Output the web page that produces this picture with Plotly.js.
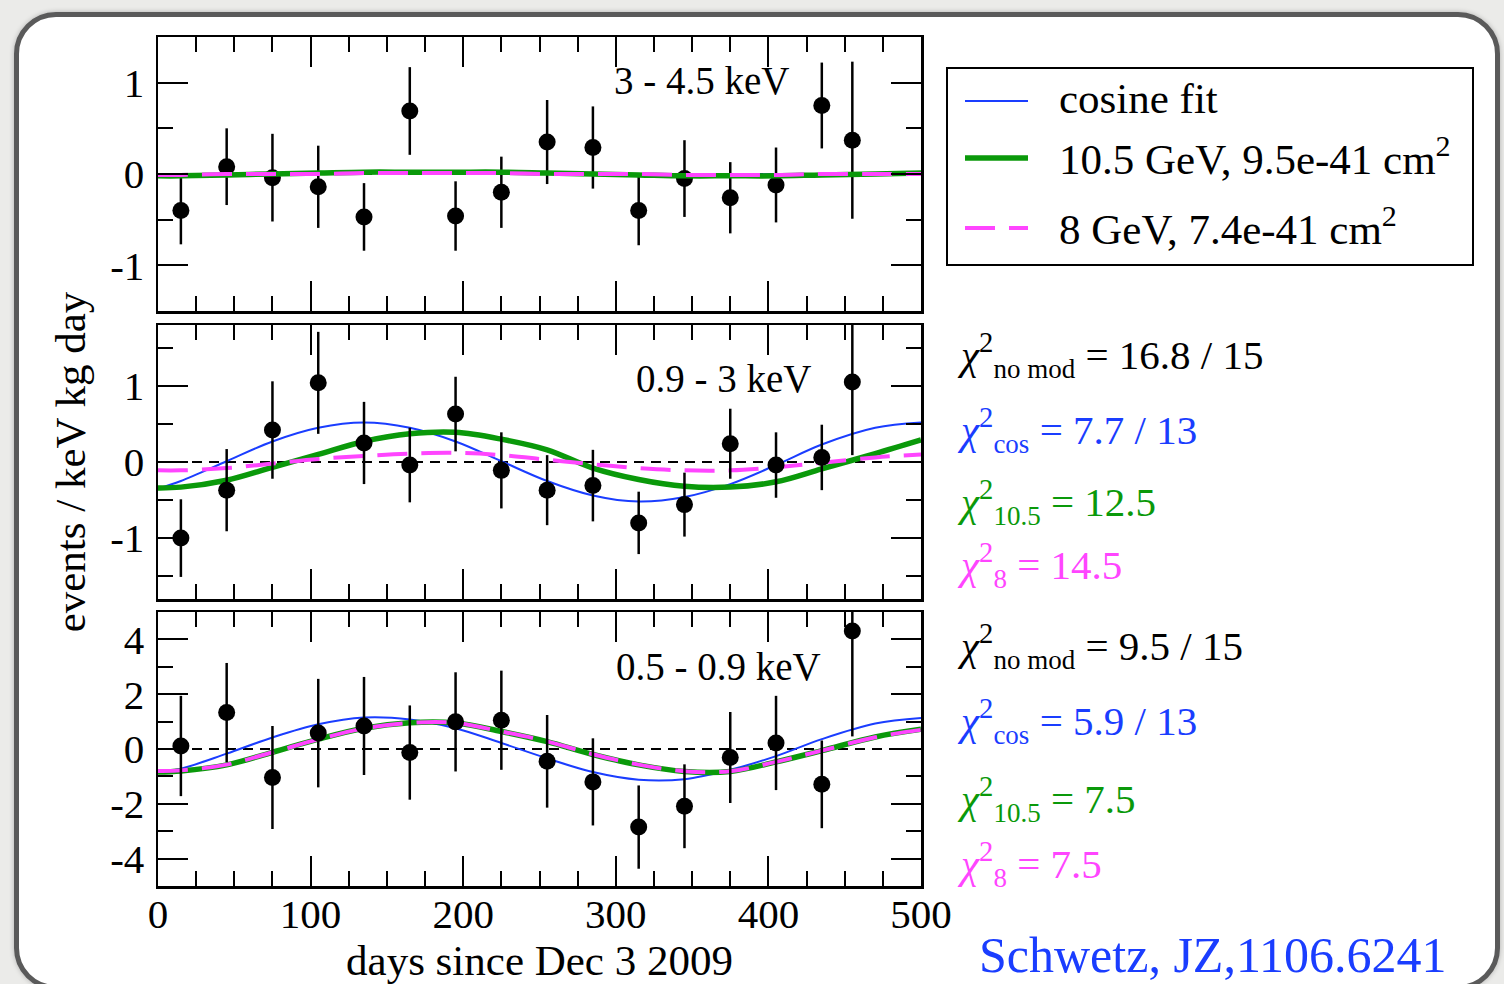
<!DOCTYPE html>
<html><head><meta charset="utf-8">
<script src="https://cdn.plot.ly/plotly-3.0.1.min.js"></script>
<style>
html,body{margin:0;padding:0;width:1504px;height:984px;overflow:hidden;background:#ebebe9;}
#frame{position:absolute;left:14px;top:12px;width:1486px;height:978px;box-sizing:border-box;border:5px solid #5a5a5a;border-radius:42px;background:#fff;box-shadow:0 0 5px rgba(0,0,0,0.25);}
#chart{position:absolute;left:0;top:0;width:1504px;height:984px;}
</style></head><body>
<div id="frame"></div><div id="chart"></div>
<script>
// ---- data ----
const days = [15,45,75,105,135,165,195,225,255,285,315,345,375,405,435,455];

const hiY   = [-0.40,0.08,-0.04,-0.14,-0.47,0.69,-0.46,-0.20,0.35,0.29,-0.40,-0.05,-0.26,-0.12,0.75,0.37];
const hiErr = [0.37,0.42,0.48,0.45,0.37,0.48,0.38,0.39,0.46,0.45,0.38,0.42,0.39,0.41,0.47,0.86];

const midY   = [-1.00,-0.37,0.42,1.04,0.25,-0.04,0.63,-0.11,-0.37,-0.31,-0.80,-0.56,0.24,-0.04,0.06,1.05];
const midErr = [0.51,0.54,0.64,0.67,0.54,0.49,0.49,0.50,0.46,0.47,0.41,0.42,0.46,0.43,0.43,0.96];

const lowY   = [0.11,1.33,-1.04,0.58,0.84,-0.13,0.99,1.05,-0.45,-1.20,-2.85,-2.09,-0.31,0.22,-1.29,4.31];
const lowErr = [1.83,1.81,1.88,1.98,1.79,1.72,1.81,1.81,1.69,1.59,1.52,1.53,1.66,1.72,1.60,3.85];

const curveDays = [0,15,45,75,105,135,165,195,225,255,285,315,345,375,405,435,470,500];

const hiCos = [0.00,0.00,0.00,0.01,0.01,0.01,0.01,0.01,0.00,0.00,-0.01,-0.01,-0.01,-0.01,0.00,0.00,0.01,0.01];
const hi105 = [-0.02,-0.02,-0.01,0.00,0.01,0.02,0.02,0.02,0.02,0.01,0.00,-0.01,-0.02,-0.02,-0.02,-0.01,0.00,0.01];
const hi8   = [-0.01,-0.01,0.00,0.00,0.00,0.01,0.01,0.01,0.01,0.00,0.00,0.00,-0.01,-0.01,-0.01,0.00,0.00,0.00];

const midCos = [-0.35,-0.25,0.01,0.27,0.45,0.52,0.45,0.27,0.01,-0.25,-0.44,-0.52,-0.46,-0.29,-0.04,0.23,0.45,0.52];
const mid105 = [-0.34,-0.33,-0.24,-0.07,0.10,0.27,0.37,0.39,0.30,0.16,-0.08,-0.23,-0.32,-0.33,-0.26,-0.09,0.11,0.29];
const mid8   = [-0.11,-0.11,-0.08,-0.02,0.04,0.08,0.11,0.12,0.09,0.03,-0.03,-0.08,-0.11,-0.11,-0.07,-0.01,0.06,0.10];

const lowCos = [-0.85,-0.72,-0.17,0.42,0.90,1.15,1.08,0.76,0.22,-0.34,-0.84,-1.12,-1.10,-0.76,-0.26,0.36,0.93,1.13];
const low105 = [-0.84,-0.80,-0.58,-0.12,0.36,0.76,0.96,0.95,0.64,0.27,-0.20,-0.58,-0.82,-0.82,-0.47,-0.06,0.44,0.72];
const low8   = [-0.80,-0.78,-0.57,-0.12,0.35,0.75,0.95,0.95,0.64,0.28,-0.19,-0.57,-0.81,-0.81,-0.47,-0.06,0.43,0.70];

const xTickVals = [0,100,200,300,400,500];
const xTickText = ['0','100','200','300','400','500'];
const y12TickVals = [-1,0,1];
const y12TickText = ['-1','0','1'];
const y3TickVals = [-4,-2,0,2,4];
const y3TickText = ['-4','-2','0','2','4'];

const seriesNames = ['cosine fit','10.5 GeV, 9.5e-41 cm<sup>2</sup>','8 GeV, 7.4e-41 cm<sup>2</sup>'];
const panelLabels = ['3 - 4.5 keV','0.9 - 3 keV','0.5 - 0.9 keV'];
const chiSubs = ['no mod','cos','10.5','8'];
const chiMidVals = ['16.8 / 15','7.7 / 13','12.5','14.5'];
const chiLowVals = ['9.5 / 15','5.9 / 13','7.5','7.5'];
const citation = 'Schwetz, JZ,1106.6241';

// ---- style / geometry ----
const W=1504,H=984,L=158,R=583,T=37,B=98;
const PW=W-L-R, PH=H-T-B;
const px=p=>(p-L)/PW, py=p=>(H-B-p)/PH;
const BLUE='#1a3dff', GREEN='#0a990a', MAG='#ff45ff';
const FONT='"Liberation Serif","Times New Roman",serif';
const styles = [
  {color:BLUE, width:2},
  {color:GREEN, width:5.5},
  {color:MAG, width:4, dash:'30px,14px'}
];
const chiText = (sub, val) => '<i>χ</i><sup>2</sup><sub><span style="font-size:27px">' + sub + '</span></sub> = ' + val;

function pts(y, err, xa, ya){
  return {type:'scatter', mode:'markers', x:days, y:y, xaxis:xa, yaxis:ya,
    marker:{color:'black', size:17},
    error_y:{type:'data', array:err, visible:true, color:'black', thickness:2.5, width:0},
    showlegend:false, hoverinfo:'skip'};
}
function curves(ys, xa, ya){
  return ys.map((y,i)=>({type:'scatter', mode:'lines', x:curveDays, y:y, xaxis:xa, yaxis:ya,
    name:seriesNames[i], line:Object.assign({shape:'spline', smoothing:1}, styles[i]),
    showlegend:false, hoverinfo:'skip'}));
}

const traces = [
  pts(hiY, hiErr, 'x', 'y'),
  ...curves([hiCos, hi105, hi8], 'x', 'y'),
  ...curves([midCos, mid105, mid8], 'x2', 'y2'),
  pts(midY, midErr, 'x2', 'y2'),
  ...curves([lowCos, low105, low8], 'x3', 'y3'),
  pts(lowY, lowErr, 'x3', 'y3')
];

const tickFont = {family:FONT, size:41, color:'black'};
function axBase(){
  return {ticks:'inside', ticklen:30, tickwidth:2, tickcolor:'black',
    showline:true, linecolor:'black', linewidth:2.5, mirror:'ticks',
    showgrid:false, zeroline:false, tickfont:tickFont, fixedrange:true};
}
function xAx(anchor, labels){
  return Object.assign(axBase(), {anchor:anchor, domain:[0,1], range:[0,500],
    tickmode:'array', tickvals:xTickVals, ticktext:xTickText, showticklabels:labels,
    minor:{ticks:'inside', ticklen:15, tickwidth:2, tickcolor:'black', tickmode:'linear', tick0:0, dtick:25}});
}
function yAx(anchor, domain, range, tv, tt, mdt){
  return Object.assign(axBase(), {anchor:anchor, domain:domain, range:range,
    tickmode:'array', tickvals:tv, ticktext:tt, ticklabelstandoff:3,
    minor:{ticks:'inside', ticklen:15, tickwidth:2, tickcolor:'black', tickmode:'linear', tick0:0, dtick:mdt}});
}

const annotations = [];
const labelPos = [[701,80],[723,378],[718,666]];
panelLabels.forEach((t,i)=>annotations.push({xref:'paper', yref:'paper', x:px(labelPos[i][0]), y:py(labelPos[i][1]),
  xanchor:'center', yanchor:'middle', text:t, showarrow:false, font:{family:FONT, size:39, color:'black'}}));
const chiColors = ['black', BLUE, GREEN, MAG];
const chiMidY = [355,430,502,565];
const chiLowY = [646,721,799,864];
chiMidVals.forEach((v,i)=>annotations.push({xref:'paper', yref:'paper', x:px(955), y:py(chiMidY[i]),
  xanchor:'left', yanchor:'middle', text:chiText(chiSubs[i], v), showarrow:false, font:{family:FONT, size:41, color:chiColors[i]}}));
chiLowVals.forEach((v,i)=>annotations.push({xref:'paper', yref:'paper', x:px(955), y:py(chiLowY[i]),
  xanchor:'left', yanchor:'middle', text:chiText(chiSubs[i], v), showarrow:false, font:{family:FONT, size:41, color:chiColors[i]}}));
// legend texts
const legY = [101,158,228];
const legTextY = [99,156,226];
seriesNames.forEach((t,i)=>annotations.push({xref:'paper', yref:'paper', x:px(1057), y:py(legTextY[i]),
  xanchor:'left', yanchor:'middle', text:t, showarrow:false, font:{family:FONT, size:43, color:'black'}}));
annotations.push({xref:'paper', yref:'paper', x:px(1213), y:py(955), xanchor:'center', yanchor:'middle',
  text:citation, showarrow:false, font:{family:FONT, size:50, color:BLUE}});

const shapes = [];
['y','y2','y3'].forEach((ya,i)=>{
  const xa = ['x','x2','x3'][i];
  shapes.push({type:'line', layer:'below', xref:xa+' domain', yref:ya, x0:0, x1:1, y0:0, y1:0,
    line:{color:'black', width:2, dash:'10px,7px'}});
});
// legend box and samples
shapes.push({type:'rect', xref:'paper', yref:'paper', x0:px(947), x1:px(1473), y0:py(265), y1:py(68),
  line:{color:'black', width:2}, fillcolor:'rgba(0,0,0,0)'});
legY.forEach((y,i)=>shapes.push({type:'line', xref:'paper', yref:'paper', x0:px(965), x1:px(1028), y0:py(y), y1:py(y),
  line:styles[i]}));

const layout = {
  width:W, height:H, margin:{l:L, r:R, t:T, b:B, pad:0},
  paper_bgcolor:'rgba(0,0,0,0)', plot_bgcolor:'white', showlegend:false,
  font:{family:FONT, color:'black'},
  xaxis: xAx('y', false),
  xaxis2: xAx('y2', false),
  xaxis3: Object.assign(xAx('y3', true), {ticklabelstandoff:-10,
    title:{text:'days since Dec 3 2009', font:{family:FONT, size:43, color:'black'}, standoff:8}}),
  yaxis: yAx('x', [1-(311-T)/PH, 1], [-1.5,1.5], y12TickVals, y12TickText, 0.5),
  yaxis2: Object.assign(yAx('x2', [(H-B-599)/PH, (H-B-325)/PH], [-1.8,1.8], y12TickVals, y12TickText, 0.5),
    {title:{text:'events / keV kg day', font:{family:FONT, size:43, color:'black'}, standoff:11}}),
  yaxis3: yAx('x3', [0, (H-B-612)/PH], [-5,5], y3TickVals, y3TickText, 1),
  annotations:annotations, shapes:shapes
};
Plotly.newPlot('chart', traces, layout, {staticPlot:true, displayModeBar:false});
</script></body></html>
